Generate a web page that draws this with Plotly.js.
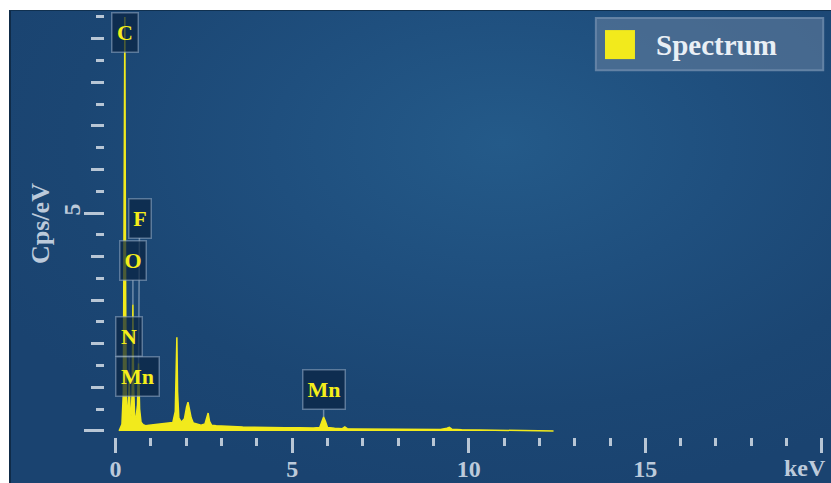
<!DOCTYPE html>
<html>
<head>
<meta charset="utf-8">
<script src="https://cdn.plot.ly/plotly-3.0.1.min.js"></script>
<style>
  html, body { margin:0; padding:0; background:#ffffff; width:831px; height:483px; overflow:hidden; }
  #bg { position:absolute; left:9px; top:10px; width:822px; height:473px;
        background: radial-gradient(ellipse 70% 75% at 60% 28%, #245a89 0%, #1f4f7e 40%, #1b4673 75%, #1a4370 100%);
        border-left:2px solid #0f2b48; border-top:1px solid #10304f; box-sizing:border-box; }
  #chart { position:absolute; left:0; top:0; width:831px; height:483px; }
</style>
</head>
<body>
<div id="bg"></div>
<div id="chart"></div>
<script>
// Spectrum data (energy in keV, counts in Cps/eV)
var energy = [0.10,0.18,0.22,0.245,0.262,0.28,0.30,0.33,0.36,0.385,0.41,0.44,0.47,0.49,0.51,0.54,0.58,0.62,0.65,0.68,0.72,0.78,0.85,0.95,1.05,1.2,1.35,1.5,1.62,1.69,1.715,1.735,1.755,1.79,1.86,1.95,2.01,2.05,2.09,2.14,2.2,2.3,2.42,2.53,2.58,2.62,2.66,2.72,2.85,3.0,3.3,3.6,4.0,4.4,4.8,5.2,5.6,5.78,5.84,5.89,5.94,6.0,6.2,6.42,6.49,6.56,6.8,7.3,7.8,8.3,8.8,9.2,9.38,9.45,9.52,9.8,10.3,10.8,11.3,11.8,12.4];
var counts = [0.0,0.15,0.9,4.5,9.5,4.0,0.9,0.45,0.5,1.1,0.45,0.35,0.9,2.9,1.0,0.35,0.3,0.6,1.55,0.5,0.2,0.14,0.12,0.13,0.14,0.15,0.16,0.17,0.19,0.45,1.3,2.15,0.9,0.3,0.2,0.28,0.55,0.66,0.5,0.3,0.18,0.15,0.13,0.16,0.3,0.41,0.22,0.13,0.12,0.11,0.1,0.09,0.09,0.08,0.075,0.07,0.065,0.08,0.24,0.32,0.22,0.08,0.06,0.05,0.09,0.05,0.045,0.04,0.035,0.03,0.03,0.035,0.06,0.08,0.04,0.025,0.02,0.015,0.01,0.005,0.0];

// Element labels (anchor point in data units)
var labelNames  = ['C', 'F', 'O', 'N', 'Mn', 'Mn'];
var labelEnergy = [0.28, 0.65, 0.49, 0.385, 0.62, 5.89];
var labelCounts = [9.15, 1.55, 2.9, 1.1, 1.26, 0.32];

// Tick labels
var xTickVals = [0, 5, 10, 15, 20];
var xTickText = ['0', '5', '10', '15', ''];
var yTickVals = [0, 5];
var yTickText = ['', '5'];
var seriesName = 'Spectrum';

var tickColor = '#b8c6d5';
var textColor = '#bccadb';
var serif = 'Liberation Serif, Times New Roman, serif';
var yellow = '#f2ea1c';

var trace = {
  x: energy, y: counts, type: 'scatter', mode: 'lines',
  fill: 'tozeroy', fillcolor: yellow,
  line: { color: yellow, width: 1.5 },
  name: seriesName, showlegend: false, hoverinfo: 'skip'
};

// label styling (offsets are pixel styles, not data)
var labelStyle = [
  { arrow: false, w: 21 },
  { arrow: true, ax: 1, ay: -145, w: 17 },
  { arrow: true, ax: 0, ay: -44, w: 21 },
  { arrow: true, ax: 0, ay: -46, w: 21 },
  { arrow: false, w: 38 },
  { arrow: true, ax: 0, ay: -27, w: 37 }
];

var annotations = labelNames.map(function (name, i) {
  var s = labelStyle[i];
  var a = {
    x: labelEnergy[i], y: labelCounts[i], xref: 'x', yref: 'y',
    text: name,
    font: { family: serif, size: 22, color: '#f5ee1a', weight: 'bold' },
    bgcolor: 'rgba(10,36,66,0.72)',
    bordercolor: 'rgba(150,172,196,0.55)', borderwidth: 1.5, borderpad: 2,
    width: s.w, height: 34,
    showarrow: s.arrow
  };
  if (s.arrow) {
    a.ax = s.ax; a.ay = s.ay; a.arrowhead = 0; a.arrowwidth = 1.5;
    a.arrowcolor = 'rgba(165,185,205,0.6)'; a.standoff = 0; a.startstandoff = 0;
  }
  return a;
});

// Legend text and unit label
annotations.push({
  xref: 'paper', yref: 'paper', x: 0.845, y: 0.919, xanchor: 'center', yanchor: 'middle',
  text: seriesName, showarrow: false,
  font: { family: serif, size: 29, color: '#e9eff5', weight: 'bold' }
});
annotations.push({
  xref: 'paper', yref: 'paper', x: 0.967, y: -0.073, xanchor: 'center', yanchor: 'middle',
  text: 'keV', showarrow: false,
  font: { family: serif, size: 24, color: textColor, weight: 'bold' }
});

var shapes = [
  { type: 'rect', xref: 'paper', yref: 'paper', x0: 0.678, x1: 0.992, y0: 0.859, y1: 0.981,
    fillcolor: 'rgba(88,118,152,0.7)', line: { color: 'rgba(105,135,168,0.9)', width: 2 }, layer: 'above' },
  { type: 'rect', xref: 'paper', yref: 'paper', x0: 0.6906, x1: 0.732, y0: 0.885, y1: 0.953,
    fillcolor: yellow, line: { width: 0 }, layer: 'above' }
];

var layout = {
  width: 831, height: 483,
  margin: { l: 105, r: 2, t: 10, b: 46 },
  paper_bgcolor: 'rgba(0,0,0,0)', plot_bgcolor: 'rgba(0,0,0,0)',
  showlegend: false,
  xaxis: {
    range: [-0.3, 20.2], showgrid: false, zeroline: false, showline: false,
    tickmode: 'array', tickvals: xTickVals, ticktext: xTickText,
    ticks: 'outside', ticklen: 15, tickwidth: 3, tickcolor: tickColor,
    ticklabelstandoff: -5,
    tickfont: { family: serif, size: 24, color: textColor, weight: 'bold' },
    minor: { dtick: 1, ticks: 'outside', ticklen: 8, tickwidth: 3, tickcolor: tickColor, showgrid: false }
  },
  yaxis: {
    range: [-0.14, 9.66], showgrid: false, zeroline: false, showline: false,
    tickmode: 'array', tickvals: yTickVals, ticktext: yTickText,
    ticks: 'outside', ticklen: 20, tickwidth: 3, tickcolor: tickColor, tickangle: -90,
    ticklabelstandoff: -6,
    tickfont: { family: serif, size: 24, color: textColor, weight: 'bold' },
    minor: { dtick: 0.5, ticks: 'outside', ticklen: 8, tickwidth: 3, tickcolor: tickColor, showgrid: false },
    title: { text: 'Cps/eV', standoff: 2, font: { family: serif, size: 26, color: textColor, weight: 'bold' } }
  },
  yaxis2: {
    overlaying: 'y', side: 'left', anchor: 'x', range: [-0.14, 9.66],
    showgrid: false, zeroline: false, showline: false, showticklabels: false,
    tickmode: 'linear', tick0: 0, dtick: 1,
    ticks: 'outside', ticklen: 13, tickwidth: 3, tickcolor: tickColor
  },
  annotations: annotations,
  shapes: shapes
};

var tickTrace = { x: [null], y: [null], yaxis: 'y2', type: 'scatter', mode: 'lines', showlegend: false, hoverinfo: 'skip' };

Plotly.newPlot('chart', [tickTrace, trace], layout, { displayModeBar: false, staticPlot: true });
</script>
</body>
</html>
